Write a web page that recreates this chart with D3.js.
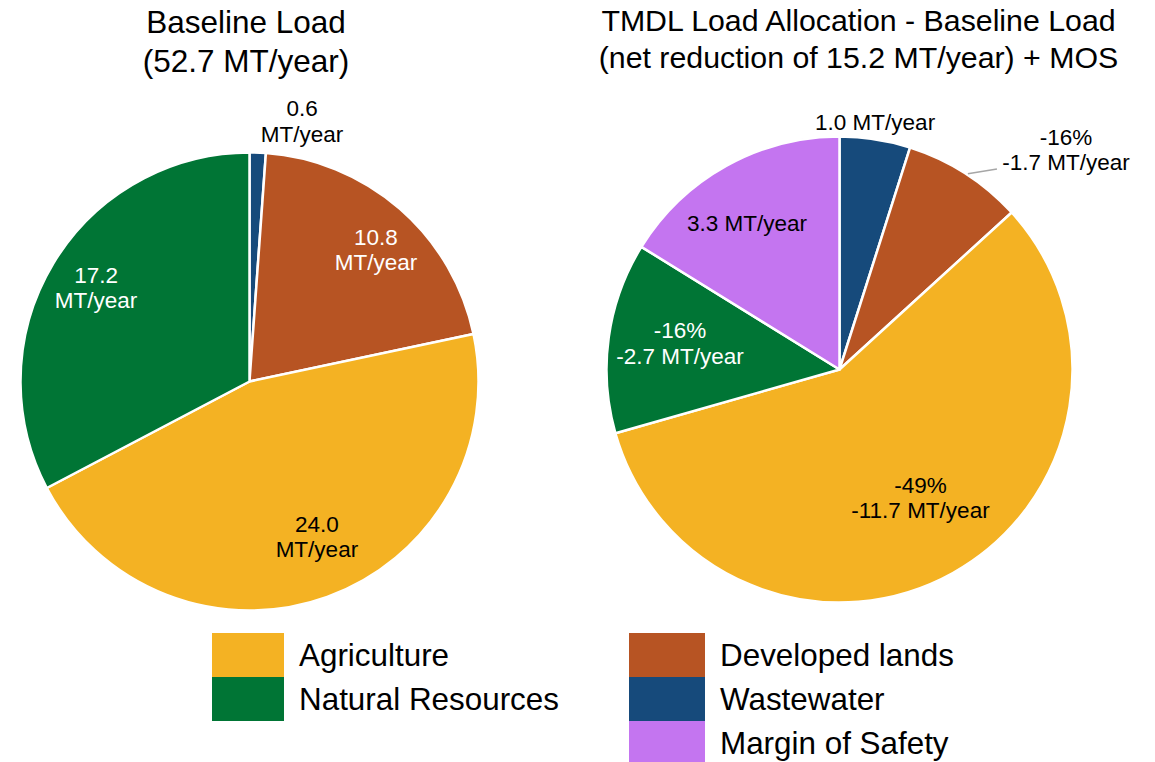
<!DOCTYPE html>
<html>
<head>
<meta charset="utf-8">
<script src="https://cdn.jsdelivr.net/npm/d3@7"></script>
<style>
  html, body { margin: 0; padding: 0; background: #fff; }
  svg { display: block; font-family: "Liberation Sans", Arial, sans-serif; }
</style>
</head>
<body>
<svg id="chart" width="1155" height="762"></svg>
<script>
// ---------- DATA ----------
const categories = ["Agriculture", "Natural Resources", "Developed lands", "Wastewater", "Margin of Safety"];
const colors = ["#F4B223", "#007535", "#B75423", "#164A7B", "#C475F0"];

// Baseline load (clockwise from 12 o'clock)
const baselineOrder = ["Wastewater", "Developed lands", "Agriculture", "Natural Resources"];
const baselineValues = [0.6, 10.8, 24.0, 17.2];
const baselineLabels = [["0.6", "MT/year"], ["10.8", "MT/year"], ["24.0", "MT/year"], ["17.2", "MT/year"]];

// TMDL load allocation (clockwise from 12 o'clock)
const tmdlOrder = ["Wastewater", "Developed lands", "Agriculture", "Natural Resources", "Margin of Safety"];
const tmdlValues = [1.0, 1.7, 11.7, 2.7, 3.3];
const tmdlLabels = [["1.0 MT/year"], ["-16%", "-1.7 MT/year"], ["-49%", "-11.7 MT/year"], ["-16%", "-2.7 MT/year"], ["3.3 MT/year"]];

const titleLeft = ["Baseline Load", "(52.7 MT/year)"];
const titleRight = ["TMDL Load Allocation - Baseline Load", "(net reduction of 15.2 MT/year) + MOS"];

// legend columns
const legendCols = [["Agriculture", "Natural Resources"], ["Developed lands", "Wastewater", "Margin of Safety"]];

// ---------- LAYOUT (styles / positions) ----------
const color = d3.scaleOrdinal().domain(categories).range(colors);
const svg = d3.select("#chart");

const pies = [
  { cx: 249.5, cy: 381.5, r: 229, order: baselineOrder, values: baselineValues, labels: baselineLabels,
    place: [
      { k: 1.160, da: 9.35, fill: "#000" },
      { k: 0.798, da: 2.7, fill: "#fff" },
      { k: 0.738, da: -3.65, fill: "#000" },
      { k: 0.786, da: 0.4, fill: "#fff" }
    ],
    title: titleLeft, titleX: 246, titleY: [32.5, 72], titleSize: 31.5 },
  { cx: 839.5, cy: 369.5, r: 233, order: tmdlOrder, values: tmdlValues, labels: tmdlLabels,
    place: [
      { k: 1.075, da: -0.65, fill: "#000" },
      { k: 1.355, da: 13.2, fill: "#000", leader: { k1: 1.005, da1: 0.6, k2: 1.094, da2: 5.5 } },
      { k: 0.650, da: -3.2, fill: "#000" },
      { k: 0.694, da: 1.5, fill: "#fff" },
      { k: 0.745, da: -3.1, fill: "#000" }
    ],
    title: titleRight, titleX: 858.5, titleY: [30.5, 68], titleSize: 30.3 }
];

const labelSize = 22.5, lineStep = 25.5;

function polar(cx, cy, rad, angDeg) {
  const a = angDeg * Math.PI / 180;
  return [cx + rad * Math.sin(a), cy - rad * Math.cos(a)];
}

pies.forEach(p => {
  const data = p.order.map((c, i) => ({ cat: c, value: p.values[i], label: p.labels[i], place: p.place[i] }));
  const arcs = d3.pie().sort(null).value(d => d.value)(data);
  const arc = d3.arc().innerRadius(0).outerRadius(p.r);
  const g = svg.append("g").attr("transform", `translate(${p.cx},${p.cy})`);

  g.selectAll("path.slice").data(arcs).join("path")
    .attr("class", "slice")
    .attr("d", arc)
    .attr("fill", d => color(d.data.cat))
    .attr("stroke", "#fff")
    .attr("stroke-width", 2.5)
    .attr("stroke-linejoin", "round");

  arcs.forEach(d => {
    const mid = (d.startAngle + d.endAngle) / 2 * 180 / Math.PI;
    const pl = d.data.place;
    if (pl.leader) {
      const a = polar(0, 0, p.r * pl.leader.k1, mid + pl.leader.da1);
      const b = polar(0, 0, p.r * pl.leader.k2, mid + pl.leader.da2);
      g.append("line").attr("x1", a[0]).attr("y1", a[1]).attr("x2", b[0]).attr("y2", b[1])
        .attr("stroke", "#A6A6A6").attr("stroke-width", 1.5);
    }
    const [x, y] = polar(0, 0, p.r * pl.k, mid + pl.da);
    const n = d.data.label.length;
    const t = g.append("text").attr("text-anchor", "middle").attr("font-size", labelSize).attr("fill", pl.fill);
    d.data.label.forEach((line, i) => {
      t.append("tspan").attr("x", x).attr("y", y - (n - 1) * lineStep / 2 + 8 + i * lineStep).text(line);
    });
  });

  const tt = svg.append("text").attr("text-anchor", "middle").attr("font-size", p.titleSize).attr("fill", "#000");
  p.title.forEach((line, i) => tt.append("tspan").attr("x", p.titleX).attr("y", p.titleY[i]).text(line));
});

// ---------- LEGEND ----------
const legendLayout = [
  { x: 212, w: 72, textX: 299 },
  { x: 629, w: 76, textX: 720 }
];
const legendTop = 633, rowH = 44;
legendCols.forEach((col, ci) => {
  const L = legendLayout[ci];
  const lg = svg.append("g");
  lg.selectAll("rect").data(col).join("rect")
    .attr("x", L.x).attr("y", (d, i) => legendTop + i * rowH)
    .attr("width", L.w).attr("height", rowH)
    .attr("fill", d => color(d));
  lg.selectAll("text").data(col).join("text")
    .attr("x", L.textX).attr("y", (d, i) => legendTop + i * rowH + 33)
    .attr("font-size", 31.4).attr("fill", "#000")
    .text(d => d);
});
</script>
</body>
</html>
